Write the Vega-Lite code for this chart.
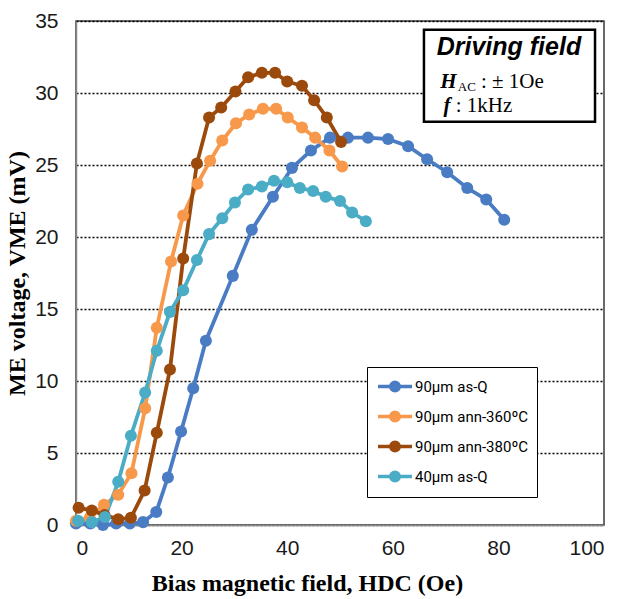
{
  "$schema": "https://vega.github.io/schema/vega-lite/v6.json",
  "width": 528,
  "height": 504,
  "autosize": "none",
  "padding": {"left": 76, "top": 21, "right": 21, "bottom": 74},
  "background": "#ffffff",
  "datasets": {
    "curves": [
      {"series": "90μm as-Q", "h": 0.0, "v": 0.1},
      {"series": "90μm as-Q", "h": 2.7, "v": 0.1},
      {"series": "90μm as-Q", "h": 5.1, "v": 0.0},
      {"series": "90μm as-Q", "h": 7.6, "v": 0.1},
      {"series": "90μm as-Q", "h": 10.2, "v": 0.1},
      {"series": "90μm as-Q", "h": 12.7, "v": 0.2},
      {"series": "90μm as-Q", "h": 15.2, "v": 0.9},
      {"series": "90μm as-Q", "h": 17.4, "v": 3.3},
      {"series": "90μm as-Q", "h": 19.9, "v": 6.5},
      {"series": "90μm as-Q", "h": 22.2, "v": 9.5},
      {"series": "90μm as-Q", "h": 24.6, "v": 12.8},
      {"series": "90μm as-Q", "h": 29.7, "v": 17.3},
      {"series": "90μm as-Q", "h": 33.3, "v": 20.5},
      {"series": "90μm as-Q", "h": 37.3, "v": 22.8},
      {"series": "90μm as-Q", "h": 40.9, "v": 24.8},
      {"series": "90μm as-Q", "h": 44.5, "v": 26.0},
      {"series": "90μm as-Q", "h": 48.1, "v": 26.9},
      {"series": "90μm as-Q", "h": 51.5, "v": 26.9},
      {"series": "90μm as-Q", "h": 55.3, "v": 26.9},
      {"series": "90μm as-Q", "h": 59.1, "v": 26.8},
      {"series": "90μm as-Q", "h": 62.9, "v": 26.3},
      {"series": "90μm as-Q", "h": 66.5, "v": 25.4},
      {"series": "90μm as-Q", "h": 70.3, "v": 24.5},
      {"series": "90μm as-Q", "h": 74.1, "v": 23.4},
      {"series": "90μm as-Q", "h": 77.7, "v": 22.6},
      {"series": "90μm as-Q", "h": 81.1, "v": 21.2},
      {"series": "90μm ann-360ºC", "h": 0.0, "v": 0.3},
      {"series": "90μm ann-360ºC", "h": 2.6, "v": 0.5},
      {"series": "90μm ann-360ºC", "h": 5.3, "v": 1.4},
      {"series": "90μm ann-360ºC", "h": 8.0, "v": 2.1},
      {"series": "90μm ann-360ºC", "h": 10.5, "v": 3.6},
      {"series": "90μm ann-360ºC", "h": 13.1, "v": 8.1},
      {"series": "90μm ann-360ºC", "h": 15.3, "v": 13.7},
      {"series": "90μm ann-360ºC", "h": 18.0, "v": 18.3},
      {"series": "90μm ann-360ºC", "h": 20.3, "v": 21.5},
      {"series": "90μm ann-360ºC", "h": 23.0, "v": 23.7},
      {"series": "90μm ann-360ºC", "h": 25.4, "v": 25.3},
      {"series": "90μm ann-360ºC", "h": 27.7, "v": 26.7},
      {"series": "90μm ann-360ºC", "h": 30.3, "v": 27.9},
      {"series": "90μm ann-360ºC", "h": 32.8, "v": 28.5},
      {"series": "90μm ann-360ºC", "h": 35.4, "v": 28.9},
      {"series": "90μm ann-360ºC", "h": 37.9, "v": 28.9},
      {"series": "90μm ann-360ºC", "h": 40.1, "v": 28.3},
      {"series": "90μm ann-360ºC", "h": 42.8, "v": 27.6},
      {"series": "90μm ann-360ºC", "h": 45.3, "v": 26.9},
      {"series": "90μm ann-360ºC", "h": 48.0, "v": 26.0},
      {"series": "90μm ann-360ºC", "h": 50.4, "v": 24.9},
      {"series": "90μm ann-380ºC", "h": 0.5, "v": 1.2},
      {"series": "90μm ann-380ºC", "h": 3.0, "v": 1.0},
      {"series": "90μm ann-380ºC", "h": 5.4, "v": 0.7},
      {"series": "90μm ann-380ºC", "h": 8.0, "v": 0.4},
      {"series": "90μm ann-380ºC", "h": 10.4, "v": 0.5},
      {"series": "90μm ann-380ºC", "h": 13.0, "v": 2.4},
      {"series": "90μm ann-380ºC", "h": 15.3, "v": 6.4},
      {"series": "90μm ann-380ºC", "h": 17.8, "v": 10.8},
      {"series": "90μm ann-380ºC", "h": 20.3, "v": 18.5},
      {"series": "90μm ann-380ºC", "h": 22.9, "v": 25.1},
      {"series": "90μm ann-380ºC", "h": 25.2, "v": 28.3},
      {"series": "90μm ann-380ºC", "h": 27.5, "v": 29.0},
      {"series": "90μm ann-380ºC", "h": 30.2, "v": 30.1},
      {"series": "90μm ann-380ºC", "h": 32.6, "v": 31.1},
      {"series": "90μm ann-380ºC", "h": 35.2, "v": 31.4},
      {"series": "90μm ann-380ºC", "h": 37.7, "v": 31.4},
      {"series": "90μm ann-380ºC", "h": 40.0, "v": 30.8},
      {"series": "90μm ann-380ºC", "h": 42.8, "v": 30.5},
      {"series": "90μm ann-380ºC", "h": 45.1, "v": 29.5},
      {"series": "90μm ann-380ºC", "h": 47.5, "v": 28.3},
      {"series": "90μm ann-380ºC", "h": 50.2, "v": 26.6},
      {"series": "40μm as-Q", "h": 0.4, "v": 0.3},
      {"series": "40μm as-Q", "h": 3.0, "v": 0.2},
      {"series": "40μm as-Q", "h": 5.5, "v": 0.55},
      {"series": "40μm as-Q", "h": 8.0, "v": 3.0},
      {"series": "40μm as-Q", "h": 10.4, "v": 6.2},
      {"series": "40μm as-Q", "h": 13.1, "v": 9.2},
      {"series": "40μm as-Q", "h": 15.3, "v": 12.1},
      {"series": "40μm as-Q", "h": 17.8, "v": 14.8},
      {"series": "40μm as-Q", "h": 20.3, "v": 16.3},
      {"series": "40μm as-Q", "h": 22.9, "v": 18.4},
      {"series": "40μm as-Q", "h": 25.2, "v": 20.2},
      {"series": "40μm as-Q", "h": 27.7, "v": 21.3},
      {"series": "40μm as-Q", "h": 30.1, "v": 22.4},
      {"series": "40μm as-Q", "h": 32.6, "v": 23.3},
      {"series": "40μm as-Q", "h": 35.2, "v": 23.5},
      {"series": "40μm as-Q", "h": 37.5, "v": 23.9},
      {"series": "40μm as-Q", "h": 40.0, "v": 23.8},
      {"series": "40μm as-Q", "h": 42.4, "v": 23.4},
      {"series": "40μm as-Q", "h": 44.9, "v": 23.2},
      {"series": "40μm as-Q", "h": 47.3, "v": 22.8},
      {"series": "40μm as-Q", "h": 50.0, "v": 22.5},
      {"series": "40μm as-Q", "h": 52.3, "v": 21.7},
      {"series": "40μm as-Q", "h": 54.9, "v": 21.1}
    ],
    "box": [
      {"x": 65.9, "x2": 98.3, "y": 34.4, "y2": 28.0}
    ],
    "notes": [
      {"id": "title", "x": 82.0, "y": 33.2, "text": "Driving field"},
      {"id": "H", "x": 69.0, "y": 30.35, "text": "H"},
      {"id": "AC", "x": 72.3, "y": 30.15, "text": "AC"},
      {"id": "hval", "x": 76.7, "y": 30.35, "text": ": ± 1Oe"},
      {"id": "f", "x": 69.6, "y": 28.65, "text": "f"},
      {"id": "fval", "x": 71.9, "y": 28.65, "text": ": 1kHz"}
    ]
  },
  "layer": [
    {
      "data": {"name": "curves"},
      "mark": {"type": "line", "strokeWidth": 3.8},
      "encoding": {
        "x": {"field": "h", "type": "quantitative", "scale": {"domain": [0, 100], "nice": false},
          "axis": {"title": "Bias magnetic field, HDC (Oe)", "values": [0, 20, 40, 60, 80, 100], "grid": false,
            "labelPadding": 12, "titleX": 231, "titleY": 58, "titleBaseline": "middle", "titleAlign": "center"}},
        "y": {"field": "v", "type": "quantitative", "scale": {"domain": [0, 35], "nice": false},
          "axis": {"title": "ME voltage, VME (mV)", "values": [0, 5, 10, 15, 20, 25, 30, 35], "grid": true,
            "gridColor": "#000000", "gridDash": [2, 2], "gridWidth": 1.4, "labelPadding": 18,
            "titleX": -59, "titleY": 252, "titleAngle": 270, "titleBaseline": "middle", "titleAlign": "center"}},
        "color": {"field": "series", "type": "nominal",
          "scale": {"domain": ["90μm as-Q", "90μm ann-360ºC", "90μm ann-380ºC", "40μm as-Q"],
            "range": ["#4A7CC4", "#F7984A", "#9C4A0C", "#4BACC6"]},
          "legend": {"orient": "none", "legendX": 291, "legendY": 346, "title": null,
            "symbolType": "M-1,0L3,0M0.5,0A0.5,0.5 0 1,0 1.5,0A0.5,0.5 0 1,0 0.5,0Z",
            "symbolSize": 289, "symbolStrokeWidth": 3.5, "symbolOpacity": 1,
            "labelFont": "Roboto", "labelFontSize": 15, "labelColor": "#000000", "labelOffset": 18,
            "rowPadding": 7, "padding": 9, "strokeColor": "#000000", "fillColor": "#ffffff",
            "encode": {"symbols": {"update": {"stroke": {"scale": "color", "field": "value"}, "fill": {"scale": "color", "field": "value"}}}}}},
        "order": {"field": "h", "type": "quantitative"}
      }
    },
    {
      "data": {"name": "curves"},
      "mark": {"type": "point", "filled": true, "opacity": 1, "size": 145},
      "encoding": {
        "x": {"field": "h", "type": "quantitative"},
        "y": {"field": "v", "type": "quantitative"},
        "color": {"field": "series", "type": "nominal"}
      }
    },
    {
      "data": {"name": "box"},
      "mark": {"type": "rect", "fill": "#ffffff", "stroke": "#000000", "strokeWidth": 2.5},
      "encoding": {
        "x": {"field": "x", "type": "quantitative"},
        "x2": {"field": "x2"},
        "y": {"field": "y", "type": "quantitative"},
        "y2": {"field": "y2"}
      }
    },
    {
      "data": {"name": "notes"},
      "transform": [{"filter": "datum.id === 'title'"}],
      "mark": {"type": "text", "font": "Liberation Sans", "fontWeight": "bold", "fontStyle": "italic", "fontSize": 25, "align": "center", "baseline": "middle", "color": "#000000"},
      "encoding": {"x": {"field": "x", "type": "quantitative"}, "y": {"field": "y", "type": "quantitative"}, "text": {"field": "text"}}
    },
    {
      "data": {"name": "notes"},
      "transform": [{"filter": "datum.id === 'H' || datum.id === 'f'"}],
      "mark": {"type": "text", "font": "Liberation Serif", "fontStyle": "italic", "fontWeight": "bold", "fontSize": 21, "align": "left", "baseline": "alphabetic", "color": "#000000"},
      "encoding": {"x": {"field": "x", "type": "quantitative"}, "y": {"field": "y", "type": "quantitative"}, "text": {"field": "text"}}
    },
    {
      "data": {"name": "notes"},
      "transform": [{"filter": "datum.id === 'AC'"}],
      "mark": {"type": "text", "font": "Liberation Serif", "fontSize": 13, "align": "left", "baseline": "alphabetic", "color": "#000000"},
      "encoding": {"x": {"field": "x", "type": "quantitative"}, "y": {"field": "y", "type": "quantitative"}, "text": {"field": "text"}}
    },
    {
      "data": {"name": "notes"},
      "transform": [{"filter": "datum.id === 'hval' || datum.id === 'fval'"}],
      "mark": {"type": "text", "font": "Liberation Serif", "fontSize": 21, "align": "left", "baseline": "alphabetic", "color": "#000000"},
      "encoding": {"x": {"field": "x", "type": "quantitative"}, "y": {"field": "y", "type": "quantitative"}, "text": {"field": "text"}}
    }
  ],
  "config": {
    "view": {"stroke": "#3a3a3a", "strokeWidth": 1.5},
    "axis": {
      "labelFont": "Liberation Sans", "labelFontSize": 21, "labelColor": "#1a1a1a",
      "titleFont": "Liberation Serif", "titleFontWeight": "bold", "titleFontSize": 24, "titleColor": "#000000",
      "ticks": false, "tickSize": 0, "domainColor": "#8a8a8a", "domainWidth": 1.5
    }
  }
}
